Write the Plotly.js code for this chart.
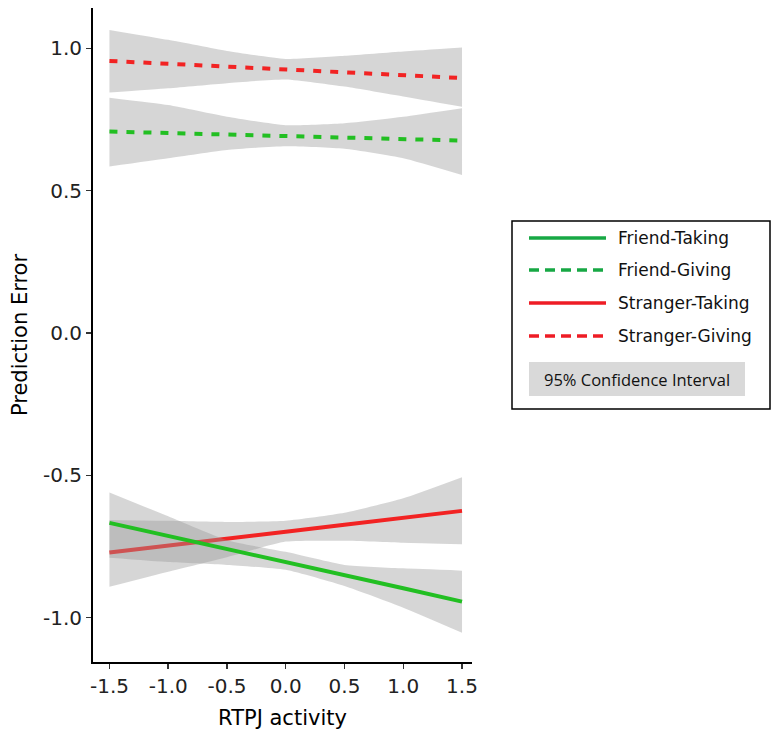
<!DOCTYPE html>
<html>
<head>
<meta charset="utf-8">
<script src="https://cdn.plot.ly/plotly-3.0.1.min.js"></script>
<style>html,body{margin:0;padding:0;background:#fff;}#chart{width:772px;height:736px;}</style>
</head>
<body>
<div id="chart"></div>
<script>
// ---- data ----
const xVals = [-1.5, -1.0, -0.5, 0, 0.5, 1.0, 1.5];

const seriesNames = ['Friend-Taking', 'Friend-Giving', 'Stranger-Taking', 'Stranger-Giving'];
const ciLabel = '95% Confidence Interval';

const friendTaking      = [-0.667, -0.713, -0.759, -0.802, -0.850, -0.897, -0.944];
const friendTakingUpper = [-0.560, -0.644, -0.728, -0.769, -0.815, -0.827, -0.835];
const friendTakingLower = [-0.790, -0.805, -0.815, -0.832, -0.889, -0.965, -1.053];

const friendGiving      = [0.708, 0.703, 0.697, 0.692, 0.687, 0.681, 0.676];
const friendGivingUpper = [0.827, 0.801, 0.760, 0.730, 0.737, 0.760, 0.790];
const friendGivingLower = [0.585, 0.614, 0.643, 0.656, 0.647, 0.614, 0.555];

const strangerTaking      = [-0.771, -0.746, -0.720, -0.698, -0.674, -0.650, -0.625];
const strangerTakingUpper = [-0.657, -0.660, -0.664, -0.660, -0.632, -0.581, -0.507];
const strangerTakingLower = [-0.892, -0.839, -0.788, -0.733, -0.730, -0.737, -0.742];

const strangerGiving      = [0.956, 0.946, 0.936, 0.926, 0.916, 0.906, 0.896];
const strangerGivingUpper = [1.065, 1.030, 0.991, 0.963, 0.974, 0.989, 1.003];
const strangerGivingLower = [0.845, 0.860, 0.878, 0.891, 0.866, 0.831, 0.795];

const xTicks = [-1.5, -1.0, -0.5, 0, 0.5, 1.0, 1.5];
const xTickLabels = ['-1.5', '-1.0', '-0.5', '0.0', '0.5', '1.0', '1.5'];
const yTicks = [-1.0, -0.5, 0, 0.5, 1.0];
const yTickLabels = ['-1.0', '-0.5', '0.0', '0.5', '1.0'];

// ---- styles ----
const GREEN = '#22bf22';
const RED = '#f22323';
const LEG_GREEN = '#17a844';
const LEG_RED = '#ee1c25';
const BAND = 'rgba(153,153,153,0.4)';
const FONT = 'DejaVu Sans, Arial, sans-serif';

function band(lower, upper) {
  return [
    {x: xVals, y: lower, mode: 'lines', line: {width: 0, shape: 'spline', smoothing: 0.5},
     hoverinfo: 'skip', showlegend: false},
    {x: xVals, y: upper, mode: 'lines', line: {width: 0, shape: 'spline', smoothing: 0.5},
     fill: 'tonexty', fillcolor: BAND, hoverinfo: 'skip', showlegend: false}
  ];
}
function fitLine(y, name, color, dash) {
  return {x: xVals, y: y, name: name, mode: 'lines',
          line: {color: color, width: 4, dash: dash}, showlegend: false};
}

const traces = [].concat(
  band(strangerGivingLower, strangerGivingUpper),
  [fitLine(strangerGiving, seriesNames[3], RED, '8px,9px')],
  band(friendGivingLower, friendGivingUpper),
  [fitLine(friendGiving, seriesNames[1], GREEN, '8px,9px')],
  band(strangerTakingLower, strangerTakingUpper),
  [fitLine(strangerTaking, seriesNames[2], RED, 'solid')],
  band(friendTakingLower, friendTakingUpper),
  [fitLine(friendTaking, seriesNames[0], GREEN, 'solid')]
);

// ---- manual legend (paper coords) ----
const L = 93, R = 472, T = 8, B = 662;
const px = v => (v - L) / (R - L);
const py = v => (B - v) / (B - T);

const legRows = [238, 270, 303, 336];
const legColors = [LEG_GREEN, LEG_GREEN, LEG_RED, LEG_RED];
const legDash = ['solid', '10px,6px', 'solid', '10px,6px'];

const shapes = [
  {type: 'rect', xref: 'paper', yref: 'paper', x0: px(512), x1: px(770), y0: py(221), y1: py(409),
   line: {color: '#000', width: 1.5}, fillcolor: 'rgba(0,0,0,0)'},
  {type: 'rect', xref: 'paper', yref: 'paper', x0: px(529), x1: px(745), y0: py(362), y1: py(396),
   line: {width: 0}, fillcolor: '#d9d9d9'}
];
const annotations = [];
seriesNames.forEach((n, i) => {
  shapes.push({type: 'line', xref: 'paper', yref: 'paper', x0: px(529), x1: px(606),
               y0: py(legRows[i]), y1: py(legRows[i]),
               line: {color: legColors[i], width: 3.5, dash: legDash[i]}});
  annotations.push({xref: 'paper', yref: 'paper', x: px(616), y: py(legRows[i]),
                    xanchor: 'left', yanchor: 'middle', showarrow: false, text: n,
                    font: {family: FONT, size: 17, color: '#111'}});
});
annotations.push({xref: 'paper', yref: 'paper', x: px(637), y: py(379),
                  xanchor: 'center', yanchor: 'middle', showarrow: false, text: ciLabel,
                  font: {family: 'Open Sans, sans-serif', size: 16.5, color: '#111'}});

const layout = {
  width: 772, height: 736,
  margin: {l: L, r: 772 - R, t: T, b: 736 - B},
  paper_bgcolor: '#fff', plot_bgcolor: '#fff',
  showlegend: false,
  font: {family: FONT, size: 20, color: '#222'},
  xaxis: {
    range: [-1.64, 1.585], showgrid: false, zeroline: false,
    showline: true, linecolor: '#000', linewidth: 2,
    ticks: 'outside', ticklen: 5, tickwidth: 1.5, tickcolor: '#333',
    tickvals: xTicks, ticktext: xTickLabels,
    tickfont: {family: FONT, size: 20, color: '#222'},
    title: {text: 'RTPJ activity', font: {family: FONT, size: 21, color: '#000'}, standoff: 13}
  },
  yaxis: {
    range: [-1.156, 1.142], showgrid: false, zeroline: false,
    showline: true, linecolor: '#000', linewidth: 2,
    ticks: 'outside', ticklen: 5, tickwidth: 1.5, tickcolor: '#333',
    tickvals: yTicks, ticktext: yTickLabels,
    tickfont: {family: FONT, size: 20, color: '#222'},
    title: {text: 'Prediction Error', font: {family: FONT, size: 21, color: '#000'}, standoff: 10}
  },
  shapes: shapes,
  annotations: annotations
};

Plotly.newPlot('chart', traces, layout, {displayModeBar: false, staticPlot: true});
</script>
</body>
</html>
